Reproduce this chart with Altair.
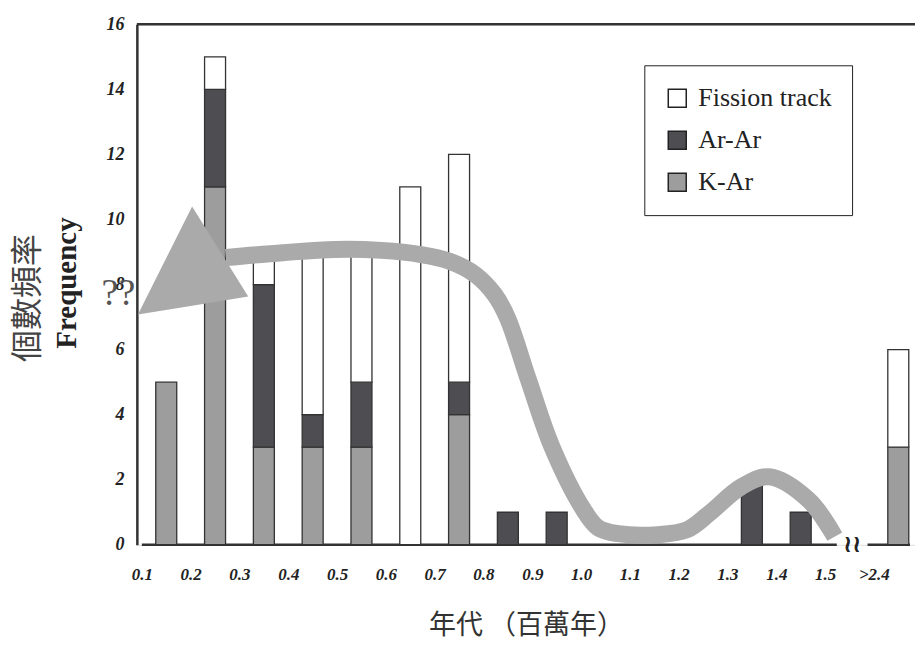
import json
import altair as alt
import pandas as pd

# ---------------- data ----------------
categories = ["0.1", "0.2", "0.3", "0.4", "0.5", "0.6", "0.7", "0.8",
              "0.9", "1.0", "1.1", "1.2", "1.3", "1.4", "1.5", ">2.4"]
k_ar    = [5, 11, 3, 3, 3, 0, 4, 0, 0, 0, 0, 0, 0, 0, 0, 3]
ar_ar   = [0, 3, 5, 1, 2, 0, 1, 1, 1, 0, 0, 0, 2, 1, 0, 0]
fission = [0, 1, 1, 5, 4, 11, 7, 0, 0, 0, 0, 0, 0, 0, 0, 3]
methods = ["Fission track", "Ar-Ar", "K-Ar"]
method_colors = ["#ffffff", "#4d4d52", "#9d9d9d"]

# hand-drawn annotation arrow (x in bin units from first bin edge, y in frequency)
arrow_x = [14.20, 13.66, 12.85, 12.28, 11.64, 11.17, 10.57, 9.76, 9.35, 9.05,
           8.40, 7.92, 7.49, 7.23, 6.83, 6.32, 5.72, 4.91, 3.96, 2.89, 1.72]
arrow_y = [0.25, 1.38, 2.09, 1.78, 0.98, 0.46, 0.31, 0.34, 0.52, 1.08,
           3.02, 5.08, 6.98, 7.69, 8.31, 8.71, 8.92, 9.05, 9.08, 8.98, 8.83]
head_x = [-0.08, 1.03, 2.18]
head_y = [7.08, 10.40, 7.63]
question_x, question_y = [-0.48], [7.7]
axis_break = [14.24, 14.87]

XMAX = 15.74
SERIF = "Liberation Serif"
CJK = "Noto Sans CJK TC"

# ---------------- tables ----------------
rows = []
for i, cat in enumerate(categories):
    base = 0
    for order, (m, vals) in enumerate([("K-Ar", k_ar), ("Ar-Ar", ar_ar), ("Fission track", fission)]):
        v = vals[i]
        if v > 0:
            rows.append({"cat": cat, "pos": i + 0.5, "method": m, "order": order,
                         "y0": base, "y1": base + v, "count": v})
            base += v
bars_df = pd.DataFrame(rows)

arrow_df = pd.DataFrame({"u": arrow_x, "v": arrow_y, "seq": list(range(len(arrow_x)))})

# triangle head as an area between the upper edge and the tip->bottom line
tip_u, tip_v = head_x[0], head_y[0]
bot_u, bot_v = head_x[2], head_y[2]
low_mid = tip_v + (head_x[1] - tip_u) / (bot_u - tip_u) * (bot_v - tip_v)
head_df = pd.DataFrame({"u": head_x, "v": head_y, "v2": [tip_v, low_mid, bot_v]})

base_df = pd.DataFrame({"x0": [0, axis_break[1]], "x1": [axis_break[0], XMAX]})
q_df = pd.DataFrame({"u": question_x, "v": question_y, "t": ["??"]})
brk_df = pd.DataFrame({"u": [(axis_break[0] + axis_break[1]) / 2], "v": [0], "t": ["≀≀"]})

# ---------------- scales / axes ----------------
xscale = alt.Scale(domain=[0, XMAX], nice=False, zero=False)
yscale = alt.Scale(domain=[0, 16], nice=False)
label_expr = json.dumps(categories) + "[datum.value]"
xaxis = alt.Axis(values=list(range(len(categories))), labelExpr=label_expr,
                 domain=False, ticks=False, grid=False,
                 labelFont=SERIF, labelFontStyle="italic", labelFontWeight="bold",
                 labelFontSize=17, labelColor="#222", labelPadding=22,
                 labelFlush=False, labelOverlap=False,
                 titleFont=CJK, titleFontSize=27, titleFontWeight="normal",
                 titleColor="#333", titlePadding=30)
yaxis = alt.Axis(values=list(range(0, 17, 2)), domain=True, domainColor="#333",
                 domainWidth=2.5, ticks=False, grid=False,
                 labelFont=SERIF, labelFontStyle="italic", labelFontWeight="bold",
                 labelFontSize=18, labelColor="#222", labelPadding=13)
XT = "年代 （百萬年）"


def X(field):
    return alt.X(field, type="quantitative", scale=xscale, axis=xaxis, title=XT)


def Y(field):
    return alt.Y(field, type="quantitative", scale=yscale, axis=yaxis, title=None)


baseline = alt.Chart(base_df).mark_rule(color="#333", strokeWidth=2.5).encode(
    x=X("x0"), x2="x1", y=alt.datum(0))

top_rule = alt.Chart(base_df.head(1)).mark_rule(color="#333", strokeWidth=2.5).encode(
    y=alt.datum(16))

bars = alt.Chart(bars_df).mark_bar(width=21, stroke="#333", strokeWidth=1.3).encode(
    x=X("pos"),
    y=Y("y0"),
    y2="y1",
    color=alt.Color("method:N",
                    scale=alt.Scale(domain=methods, range=method_colors),
                    legend=alt.Legend(title=None, orient="none", legendX=508, legendY=41,
                                      direction="vertical", strokeColor="#222",
                                      fillColor="#ffffff", padding=20,
                                      labelFont=SERIF, labelFontSize=26, labelColor="#222",
                                      symbolType="square", symbolSize=324,
                                      symbolStrokeColor="#222", symbolStrokeWidth=1.5,
                                      rowPadding=16, labelOffset=8)),
)

arrow = alt.Chart(arrow_df).mark_line(color="#aaaaaa", strokeWidth=17,
                                      interpolate="catmull-rom", strokeCap="butt").encode(
    x=X("u"), y=Y("v"), order="seq:Q")

head = alt.Chart(head_df).mark_area(color="#aaaaaa", interpolate="linear").encode(
    x=X("u"), y=Y("v"), y2="v2")

qq = alt.Chart(q_df).mark_text(font=SERIF, fontSize=38, color="#555").encode(
    x=X("u"), y=Y("v"), text="t:N")

brk = alt.Chart(brk_df).mark_text(font="DejaVu Sans", fontSize=24, fontWeight="bold",
                                  color="#222").encode(x=X("u"), y=Y("v"), text="t:N")

ytitle_cn = alt.Chart(pd.DataFrame({"t": ["個數頻率"]})).mark_text(
    font=CJK, fontSize=32, color="#444", angle=270, align="center", baseline="middle").encode(
    x=alt.value(-109), y=alt.value(274), text="t:N")
ytitle_en = alt.Chart(pd.DataFrame({"t": ["Frequency"]})).mark_text(
    font=SERIF, fontSize=29, fontWeight="bold", color="#222", angle=270,
    align="center", baseline="middle").encode(
    x=alt.value(-70), y=alt.value(259), text="t:N")

chart = alt.layer(baseline, top_rule, bars, arrow, head, qq, brk, ytitle_cn, ytitle_en).properties(
    width=779, height=521,
    autosize=alt.AutoSizeParams(type="none"),
    padding={"left": 129, "top": 16, "right": 0, "bottom": 100},
).configure_view(stroke=None).configure(background="#ffffff")

chart.save("out.html", embed_options={"renderer": "svg", "actions": False})
